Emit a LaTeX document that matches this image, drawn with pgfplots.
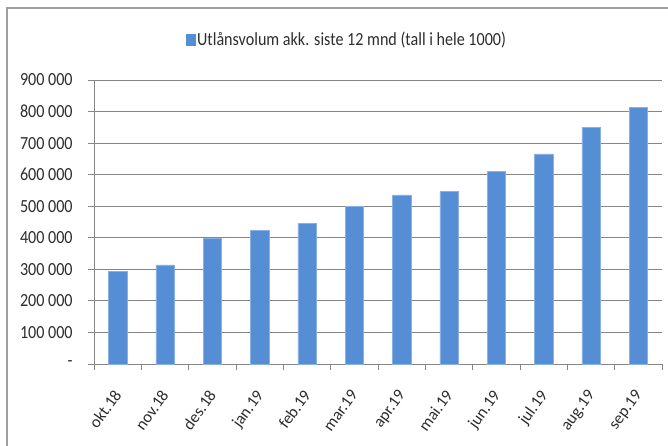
\documentclass[border=0pt]{standalone}
\usepackage{pgfplots}
\pgfplotsset{compat=1.18}
\usepackage{fontspec}
\setmainfont{Carlito}[FakeStretch=0.87]
\newfontfamily\xlfont{Carlito}
\definecolor{barblue}{RGB}{85,142,213}
\definecolor{gridgray}{RGB}{134,134,134}
\definecolor{txt}{RGB}{45,45,45}
\begin{document}
\fontsize{18.5}{21}\selectfont
\begin{tikzpicture}
\useasboundingbox (0,0) rectangle (668pt,445pt);
\draw[gridgray!80, line width=1.3pt] (7pt,-20pt) -- (7pt,437pt) -- (700pt,437pt);
\begin{axis}[
  at={(94pt,81pt)}, anchor=south west,
  scale only axis, width=568pt, height=284pt,
  xmin=-0.5, xmax=11.5, ymin=0, ymax=900000,
  axis x line*=bottom, axis y line*=left,
  axis line style={gridgray, line width=0.9pt},
  ybar, bar width=18.3pt,
  xtick=data,
  xticklabels={okt.18,nov.18,des.18,jan.19,feb.19,mar.19,apr.19,mai.19,jun.19,jul.19,aug.19,sep.19},
  major x tick style={draw=none},
  minor xtick={-0.5,0.5,...,11.5},
  minor tick length=6pt,
  minor x tick style={gridgray, line width=0.9pt},
  tick align=outside,
  scaled y ticks=false,
  ytick={0,100000,...,900000},
  yticklabels={-\hspace{7pt},100 000,200 000,300 000,400 000,500 000,600 000,700 000,800 000,900 000},
  major tick length=6pt,
  y tick style={gridgray, line width=0.9pt},
  ymajorgrids, grid style={gridgray, line width=0.9pt},
  tick label style={font=\fontsize{18.5}{21}\selectfont, text=txt},
  yticklabel style={xshift=-9pt},
  xticklabel style={xshift=-5pt, yshift=-17pt, rotate=54, anchor=north east, inner sep=1pt, font=\xlfont\fontsize{16.5}{19}\selectfont},
  legend style={at={(0.445,1.141)}, anchor=center, draw=none, fill=none, font=\fontsize{18.5}{21}\selectfont, text=txt},
  legend image code/.code={\fill[barblue] (0pt,-5.5pt) rectangle (9pt,5.5pt);},
]
\addplot[fill=barblue, draw=barblue!70!white, line width=0.6pt] coordinates {
(0,293000) (1,314000) (2,398000) (3,424000) (4,445000) (5,499000)
(6,536000) (7,547000) (8,611000) (9,666000) (10,751000) (11,812000)};
\addlegendentry{Utlånsvolum akk. siste 12 mnd (tall i hele 1000)}
\end{axis}
\end{tikzpicture}
\end{document}
